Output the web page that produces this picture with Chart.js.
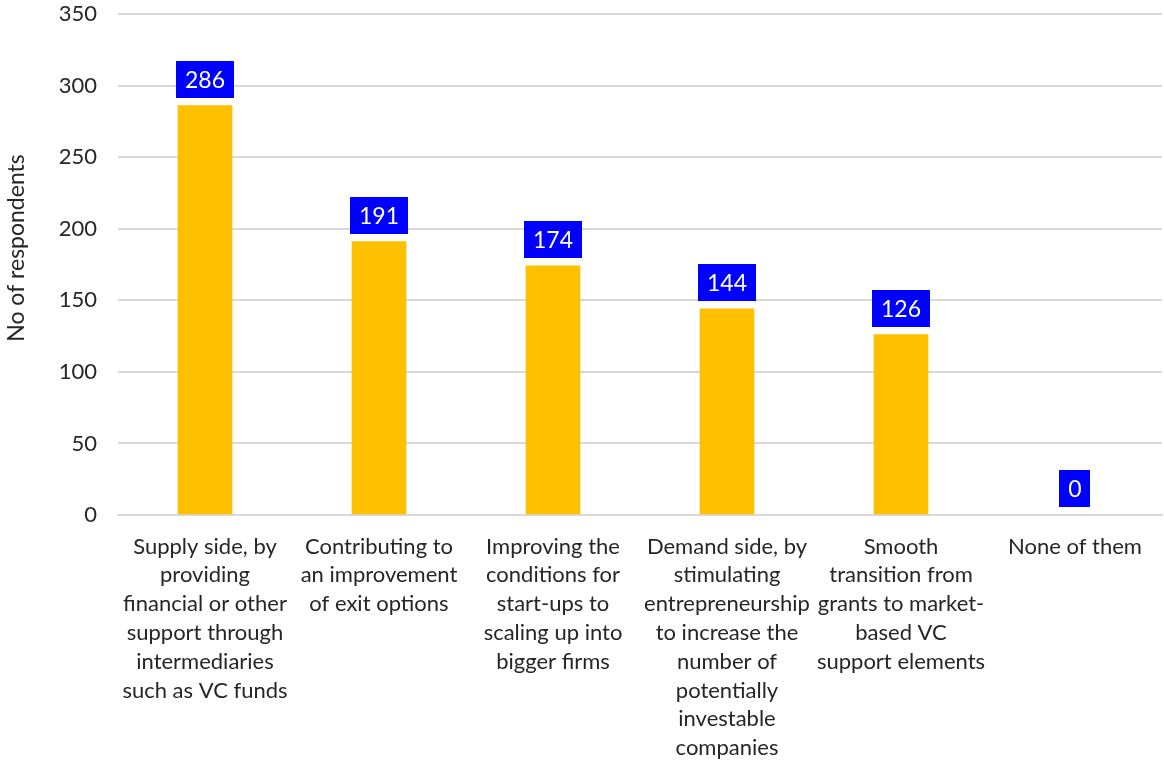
<!DOCTYPE html>
<html>
<head>
<meta charset="utf-8">
<script src="https://cdn.jsdelivr.net/npm/chart.js@4/dist/chart.umd.min.js"></script>
<style>
  html, body { margin: 0; padding: 0; background: #ffffff; }
  #wrap { width: 1164px; height: 760px; }
</style>
</head>
<body>
<div id="wrap"><canvas id="chart"></canvas></div>
<script>
// categories (already split in lines as in the picture)
var categorias = [
  ['Supply side, by', 'providing', 'financial or other', 'support through', 'intermediaries', 'such as VC funds'],
  ['Contributing to', 'an improvement', 'of exit options'],
  ['Improving the', 'conditions for', 'start-ups to', 'scaling up into', 'bigger firms'],
  ['Demand side, by', 'stimulating', 'entrepreneurship', 'to increase the', 'number of', 'potentially', 'investable', 'companies'],
  ['Smooth', 'transition from', 'grants to market-', 'based VC', 'support elements'],
  ['None of them']
];
var respostas = [286, 191, 174, 144, 126, 0];
var yTicks = [0, 50, 100, 150, 200, 250, 300, 350];
var tituloY = 'No of respondents';

var fonte = "'Lato', 'Noto Sans', sans-serif";

// caixinhas azuis com o valor em cima de cada barra + titulo do eixo y
var rotulos = {
  id: 'rotulos',
  afterDatasetsDraw: function (chart) {
    var ctx = chart.ctx;
    var meta = chart.getDatasetMeta(0);
    ctx.save();
    ctx.font = '23px ' + fonte;
    ctx.textAlign = 'center';
    ctx.textBaseline = 'middle';
    meta.data.forEach(function (bar, i) {
      var txt = String(respostas[i]);
      var w = ctx.measureText(txt).width + 18;
      var h = 37;
      var bottom = bar.y - 8;
      ctx.fillStyle = '#0000ff';
      ctx.fillRect(Math.round(bar.x - w / 2), Math.round(bottom - h), Math.round(w), h);
      ctx.fillStyle = '#ffffff';
      ctx.fillText(txt, bar.x, bottom - h / 2 + 1);
    });
    ctx.restore();

    // titulo do eixo y (um pouco acima do centro, como no original)
    ctx.save();
    ctx.translate(17, 248);
    ctx.rotate(-Math.PI / 2);
    ctx.font = '23px ' + fonte;
    ctx.fillStyle = '#262626';
    ctx.textAlign = 'center';
    ctx.textBaseline = 'middle';
    ctx.fillText(tituloY, 0, 0);
    ctx.restore();
  }
};

var ctx = document.getElementById('chart').getContext('2d');
var chart = new Chart(ctx, {
  type: 'bar',
  data: {
    labels: categorias,
    datasets: [{
      data: respostas,
      backgroundColor: respostas.map(function (v) { return v > 0 ? '#ffc000' : 'rgba(0,0,0,0)'; }),
      borderWidth: 0,
      barThickness: 54
    }]
  },
  options: {
    responsive: true,
    maintainAspectRatio: false,
    animation: false,
    layout: { padding: { top: 14, right: 2, left: 0, bottom: 0 } },
    plugins: {
      legend: { display: false },
      tooltip: { enabled: false }
    },
    scales: {
      x: {
        grid: { display: false, drawTicks: false },
        border: { color: '#d9d9d9', width: 2 },
        ticks: {
          color: '#262626',
          font: { family: fonte, size: 22, lineHeight: 1.31 },
          padding: 17,
          maxRotation: 0,
          autoSkip: false
        },
        afterFit: function (axis) { axis.height = 245; }
      },
      y: {
        min: 0,
        max: 350,
        afterBuildTicks: function (axis) {
          axis.ticks = yTicks.map(function (v) { return { value: v }; });
        },
        grid: { color: '#d9d9d9', lineWidth: 2, drawTicks: true, tickLength: 21, tickColor: 'rgba(0,0,0,0)' },
        border: { display: false },
        ticks: {
          color: '#262626',
          font: { family: fonte, size: 22 },
          padding: 0
        },
        afterFit: function (axis) { axis.width = 118; }
      }
    }
  },
  plugins: [rotulos]
});
</script>
</body>
</html>
